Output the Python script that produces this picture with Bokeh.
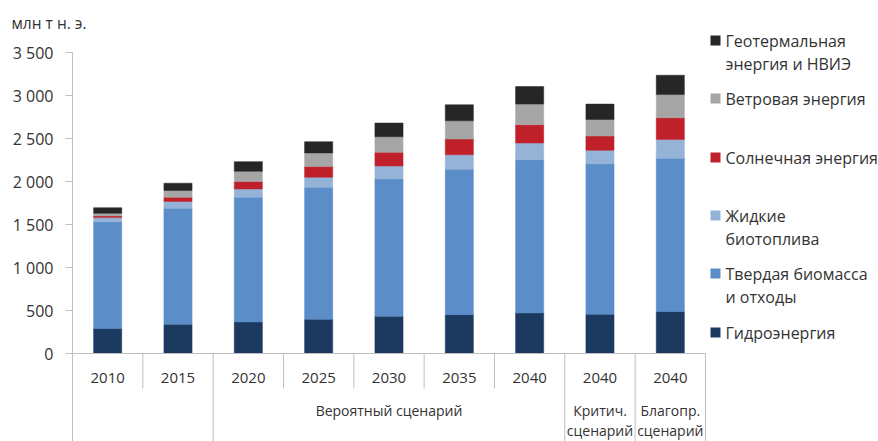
from bokeh.plotting import figure
from bokeh.models import ColumnDataSource, Range1d, FixedTicker
from bokeh.core.properties import value
from bokeh.embed import file_html
from bokeh.resources import INLINE

# ---------------- data ----------------
years = ["2010", "2015", "2020", "2025", "2030", "2035", "2040", "2040", "2040"]
hydro = [290, 340, 367, 398, 433, 452, 471, 456, 487]
solid_biomass = [1240, 1350, 1450, 1535, 1597, 1689, 1783, 1748, 1782]
liquid_biofuels = [50, 78, 97, 116, 151, 171, 194, 158, 220]
solar = [20, 50, 85, 124, 158, 182, 212, 167, 252]
wind = [30, 77, 119, 159, 182, 212, 240, 192, 270]
geothermal = [65, 85, 113, 131, 159, 186, 204, 179, 225]

series_keys = ["hydro", "solid", "liquid", "solar", "wind", "geo"]
series_labels = ["Гидроэнергия", "Твердая биомасса\nи отходы", "Жидкие\nбиотоплива",
                 "Солнечная энергия", "Ветровая энергия", "Геотермальная\nэнергия и НВИЭ"]
series_colors = ["#1C3A5F", "#5B8DC9", "#95B3D7", "#C0202A", "#A6A6A6", "#262626"]

# scenario groups: (label, number of categories)
group_labels = ["", "Вероятный сценарий", "Критич.\nсценарий", "Благопр.\nсценарий"]
group_sizes = [2, 5, 1, 1]

y_ticks = [0, 500, 1000, 1500, 2000, 2500, 3000, 3500]
y_tick_labels = ["0", "500", "1 000", "1 500", "2 000", "2 500", "3 000", "3 500"]
unit_label = "млн т н. э."

# ---------------- layout (pixels) ----------------
W, H = 878, 441
LEFT = 72
CAT_W = 70.33
ZERO_PX = 353
TOP_PX = 52
K = y_ticks[-1] / (ZERO_PX - TOP_PX)
FONT = "Open Sans"
TXT = "#333333"
AXC = "#BFBFBF"


def dx(px):
    return (px - LEFT) / CAT_W


def dy(py):
    return (ZERO_PX - py) * K


p = figure(width=W, height=H, x_range=Range1d(dx(0), dx(W)), y_range=Range1d(dy(H), dy(0)),
           output_backend="svg", toolbar_location=None, x_axis_location=None,
           min_border_left=0, min_border_right=0, min_border_top=0, min_border_bottom=0)
p.outline_line_color = None
p.grid.visible = False
p.background_fill_color = "white"
p.border_fill_color = "white"

yax = p.yaxis[0]
yax.fixed_location = 0
yax.ticker = FixedTicker(ticks=y_ticks)
yax.major_label_overrides = {t: l for t, l in zip(y_ticks, y_tick_labels)}
yax.bounds = (dy(H), y_ticks[-1])
yax.axis_line_color = AXC
yax.major_tick_line_color = AXC
yax.minor_tick_line_color = None
yax.major_tick_out = 7
yax.major_tick_in = 0
yax.major_label_standoff = 12
yax.major_label_text_font = FONT
yax.major_label_text_font_size = "16px"
yax.major_label_text_color = TXT

# ---------------- bars ----------------
n = len(years)
xs = [i + 0.5 for i in range(n)]
src = ColumnDataSource(dict(x=xs, hydro=hydro, solid=solid_biomass, liquid=liquid_biofuels,
                            solar=solar, wind=wind, geo=geothermal))
p.vbar_stack(series_keys, x="x", width=0.4, source=src,
             fill_color=series_colors, line_color=series_colors, line_width=0.5)

# ---------------- category axis ----------------
p.segment(x0=[0], y0=[0], x1=[n], y1=[0], line_color=AXC, line_width=1)

boundaries = []
acc = 0
for s in group_sizes:
    acc += s
    boundaries.append(acc)
short_b = [b for b in range(1, n + 1) if b not in boundaries]
p.segment(x0=short_b, y0=[0] * len(short_b), x1=short_b, y1=[dy(388)] * len(short_b),
          line_color=AXC, line_width=1)
p.segment(x0=boundaries, y0=[0] * len(boundaries), x1=boundaries, y1=[dy(H)] * len(boundaries),
          line_color=AXC, line_width=1)

p.text(x=xs, y=[dy(377)] * n, text=years, text_font=value(FONT), text_font_size=value("15px"),
       text_color=TXT, text_align="center", text_baseline="middle")

gx, gy, gt = [], [], []
start = 0
for lab, s in zip(group_labels, group_sizes):
    center = start + s / 2
    for j, line in enumerate(lab.split("\n")):
        if line:
            gx.append(center)
            gy.append(dy(410 + 20 * j))
            gt.append(line)
    start += s
p.text(x=gx, y=gy, text=gt, text_font=value(FONT), text_font_size=value("14px"),
       text_color=TXT, text_align="center", text_baseline="middle")

# ---------------- legend ----------------
legend_rows_px = [332, 273, 215, 157, 98, 40]  # first-line centre of each item (same order as series)
lx, ly, lt = [], [], []
for lab, py in zip(series_labels, legend_rows_px):
    for j, line in enumerate(lab.split("\n")):
        lx.append(dx(725))
        ly.append(dy(py + 23.5 * j))
        lt.append(line)
p.rect(x=[dx(715)] * len(series_keys), y=[dy(v) for v in legend_rows_px], width=10, height=10,
       width_units="screen", height_units="screen", fill_color=series_colors, line_color=None)
p.text(x=lx, y=ly, text=lt, text_font=value(FONT), text_font_size=value("16px"),
       text_color=TXT, text_align="left", text_baseline="middle")

# unit label
p.text(x=[dx(11)], y=[dy(22)], text=[unit_label], text_font=value(FONT),
       text_font_size=value("15.5px"), text_color=TXT, text_align="left", text_baseline="middle")

open("out.html", "w").write(file_html(p, INLINE))
